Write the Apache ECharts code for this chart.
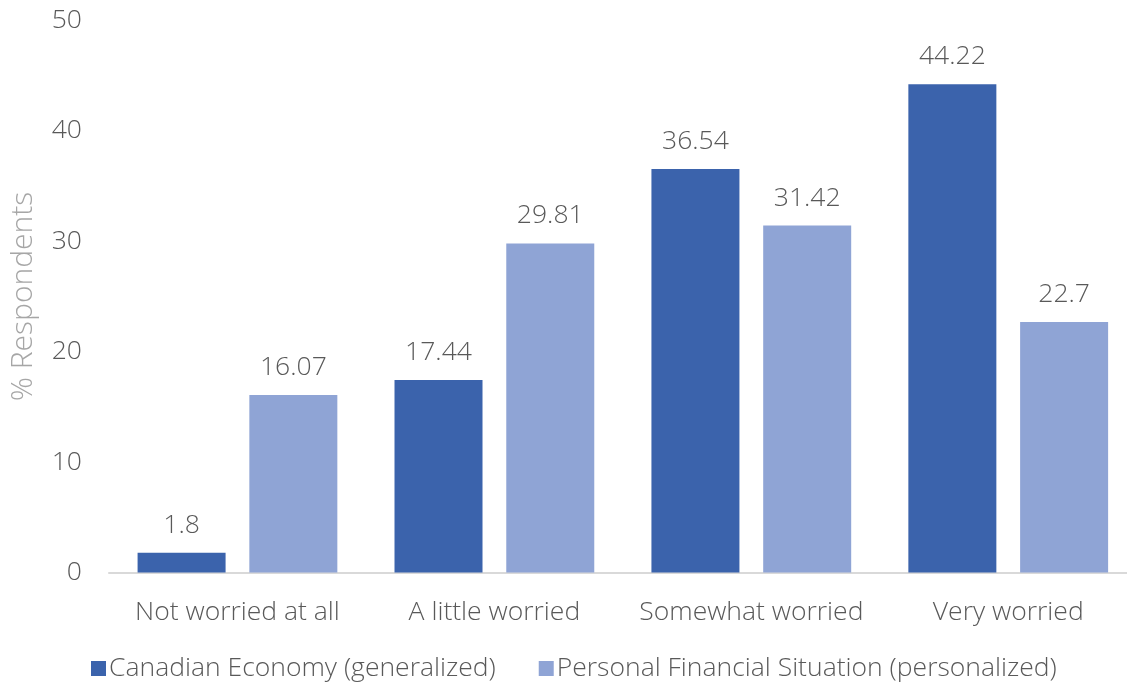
<!DOCTYPE html>
<html>
<head>
<meta charset="utf-8">
<script src="https://cdn.jsdelivr.net/npm/echarts@6/dist/echarts.min.js"></script>
<style>
  html, body { margin: 0; padding: 0; background: #fff; overflow: hidden; }
  /* the plot runs a little past the right edge of the window */
  #chart { width: 1140px; height: 687px; }
</style>
</head>
<body>
<div id="chart"></div>
<script>
// Worry levels and the share of respondents for each focus
const categories = ['Not worried at all', 'A little worried', 'Somewhat worried', 'Very worried'];
const economyValues = [1.8, 17.44, 36.54, 44.22];
const personalValues = [16.07, 29.81, 31.42, 22.7];
const seriesNames = ['Canadian Economy (generalized)', 'Personal Financial Situation (personalized)'];
const yTicks = { min: 0, max: 50, interval: 10 };

const FONT = '"Open Sans", "Segoe UI", sans-serif';
const TEXT = '#595959';
const SIZE = 26.5;

const chart = echarts.init(document.getElementById('chart'), null, { renderer: 'canvas' });

const labelStyle = {
  show: true,
  position: 'top',
  distance: 14,
  color: TEXT,
  fontFamily: FONT,
  fontWeight: 300,
  fontSize: SIZE
};

chart.setOption({
  animation: false,
  textStyle: { fontFamily: FONT },
  grid: { left: 107.3, right: 3.3, top: 20.5, bottom: 114.5, containLabel: false },
  legend: {
    bottom: 0,
    left: 86,
    itemWidth: 15,
    itemHeight: 15,
    itemGap: 43,
    icon: 'rect',
    textStyle: { color: TEXT, fontFamily: FONT, fontWeight: 300, fontSize: SIZE, padding: [0, 0, 0, -2] },
    data: seriesNames
  },
  xAxis: {
    type: 'category',
    data: categories,
    axisLine: { show: true, lineStyle: { color: '#D9D9D9', width: 2 } },
    axisTick: { show: false },
    axisLabel: { interval: 0, color: TEXT, fontFamily: FONT, fontWeight: 300, fontSize: SIZE, margin: 26 }
  },
  yAxis: {
    type: 'value',
    min: yTicks.min,
    max: yTicks.max,
    interval: yTicks.interval,
    name: '% Respondents',
    nameLocation: 'middle',
    nameGap: 71,
    nameTextStyle: { color: '#A6A6A6', fontFamily: FONT, fontWeight: 300, fontSize: 30 },
    axisLine: { show: false },
    axisTick: { show: false },
    splitLine: { show: false },
    axisLabel: { color: TEXT, fontFamily: FONT, fontWeight: 300, fontSize: SIZE, margin: 27 }
  },
  series: [
    {
      name: seriesNames[0],
      type: 'bar',
      data: economyValues,
      barWidth: 88,
      barGap: '27%',
      itemStyle: { color: '#3B63AC' },
      label: labelStyle
    },
    {
      name: seriesNames[1],
      type: 'bar',
      data: personalValues,
      barWidth: 88,
      itemStyle: { color: '#8FA4D5' },
      label: labelStyle
    }
  ]
});
</script>
</body>
</html>
